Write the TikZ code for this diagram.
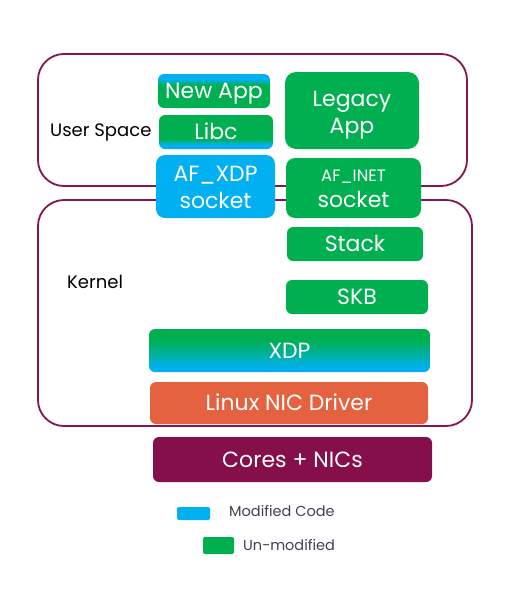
\documentclass[tikz,border=0pt]{standalone}
\usepackage{fontspec}
\setmainfont{Poppins}
\definecolor{xgreen}{HTML}{00B050}
\definecolor{xblue}{HTML}{00B0F0}
\definecolor{xorange}{HTML}{E46240}
\definecolor{xmaroon}{HTML}{840F4B}
\definecolor{xframe}{HTML}{861550}
\definecolor{xlegtext}{HTML}{404058}
\pgfdeclareverticalshading{newappshade}{100bp}{color(0bp)=(xgreen); color(25bp)=(xgreen); color(59bp)=(xgreen); color(67bp)=(xblue); color(100bp)=(xblue)}
\pgfdeclareverticalshading{libcshade}{100bp}{color(0bp)=(xblue); color(25bp)=(xblue); color(31bp)=(xblue); color(40bp)=(xgreen); color(100bp)=(xgreen)}
\pgfdeclareverticalshading{xdpshade}{100bp}{color(0bp)=(xblue); color(25bp)=(xblue); color(30bp)=(xblue); color(62bp)=(xgreen); color(100bp)=(xgreen)}
\begin{document}
\begin{tikzpicture}[x=1pt,y=-1pt,
  frame/.style={draw=xframe, line width=1.8pt, rounded corners=26pt},
  blk/.style={rounded corners=6pt, inner sep=0pt, text=white, font=\fontsize{22}{27}\selectfont, align=center, text height=15.4pt, text depth=0pt},
  lbl/.style={anchor=west, inner sep=0pt},
  legbox/.style={rounded corners=2pt, inner sep=0pt}]
\useasboundingbox (0,0) rectangle (518,592);
% outer frames
\draw[frame] (38,54) rectangle (467,186);
\draw[frame] (38,200) rectangle (472,426);
\node[lbl, font=\fontsize{18}{21}\selectfont] (us) at (50,132) {User Space};
\node[lbl, font=\fontsize{18}{21}\selectfont] (kern) at (67,282) {Kernel};
% user space blocks
\node[blk, shading=newappshade, minimum width=112pt, minimum height=34pt] (newapp) at (214,91) {New App};
\node[blk, shading=libcshade, minimum width=114pt, minimum height=34pt] (libc) at (216,132) {Libc};
\node[blk, fill=xgreen, rounded corners=11pt, minimum width=134pt, minimum height=77pt, text height=45.6pt, text depth=0pt] (legacy) at (352,110.5) {Legacy\\App};
\node[blk, fill=xblue, rounded corners=9pt, minimum width=119pt, minimum height=63pt, text height=43.6pt, text depth=0pt] (afxdp) at (215.5,186.5) {AF\_XDP\\socket};
\node[blk, fill=xgreen, rounded corners=9pt, minimum width=135pt, minimum height=60pt, text height=39.4pt, text depth=0pt] (afinet) at (353.5,188) {{\fontsize{16.5}{20}\selectfont AF\_INET}\\[-1pt]socket};
% kernel blocks
\node[blk, fill=xgreen, minimum width=136pt, minimum height=34pt] (stack) at (355,244) {Stack};
\node[blk, fill=xgreen, minimum width=142pt, minimum height=34pt] (skb) at (357,297) {SKB};
\node[blk, shading=xdpshade, minimum width=281pt, minimum height=43pt] (xdp) at (289.5,350.5) {XDP};
\node[blk, fill=xorange, minimum width=278pt, minimum height=42pt] (driver) at (289,403) {Linux NIC Driver};
\node[blk, fill=xmaroon, minimum width=279pt, minimum height=45pt] (cores) at (292.5,459.5) {Cores + NICs};
% legend
\node[legbox, fill=xblue, minimum width=33pt, minimum height=13pt] (legmod) at (193.5,513.5) {};
\node[lbl, text=xlegtext, font=\fontsize{14.5}{17}\selectfont] (legmodt) at (229,511) {Modified Code};
\node[legbox, fill=xgreen, minimum width=31pt, minimum height=17pt] (legun) at (218.5,545.5) {};
\node[lbl, text=xlegtext, font=\fontsize{14.5}{17}\selectfont] (leguntt) at (243,545) {Un-modified};
\end{tikzpicture}
\end{document}
